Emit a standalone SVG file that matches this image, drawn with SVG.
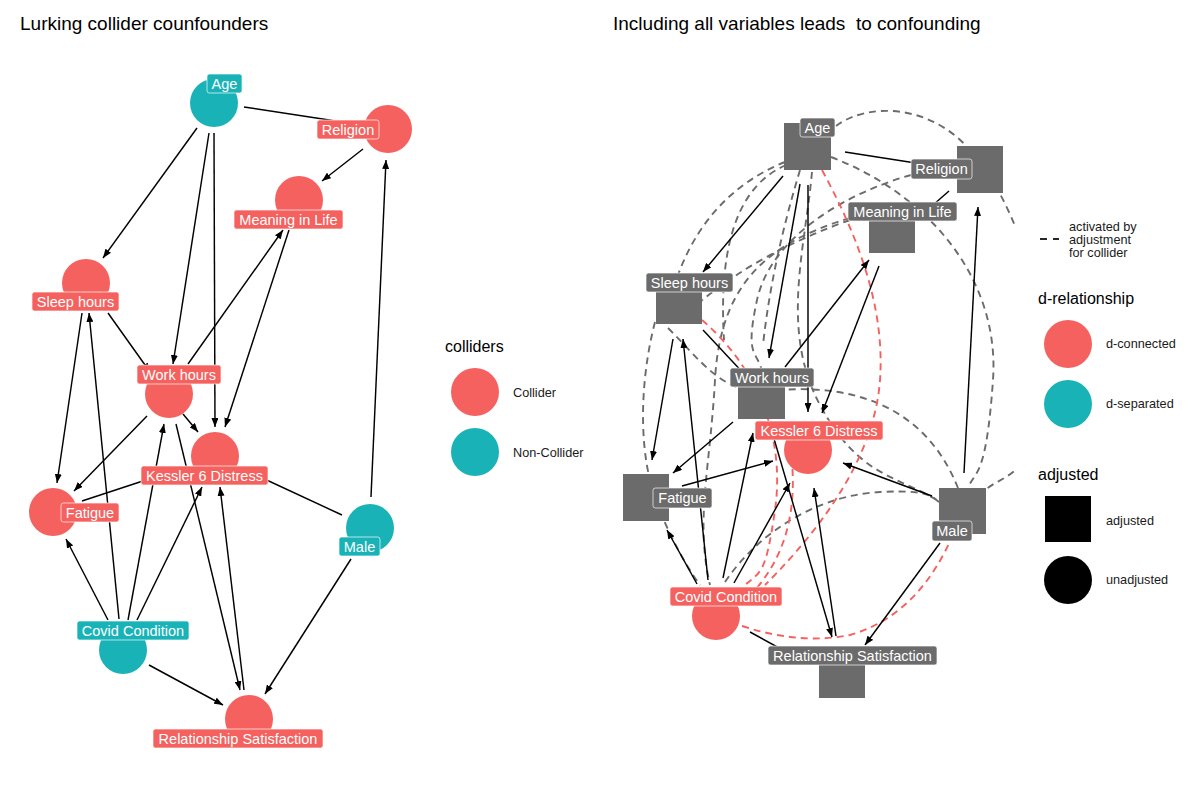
<svg xmlns="http://www.w3.org/2000/svg" width="1200" height="800" viewBox="0 0 1200 800">
  <style>
    text { font-family: "Liberation Sans", Arial, sans-serif; }
    .title { font-size: 19px; fill: #000; white-space: pre; }
    .lt { font-size: 16px; fill: #000; }
    .li { font-size: 12.7px; fill: #1a1a1a; }
    .lab { font-size: 14.5px; fill: #fff; text-anchor: middle; }
    .red { fill: #F4615E; }
    .teal { fill: #19B3B7; }
    .grey { fill: #6B6B6B; }
    .box { stroke: #ffffff; stroke-opacity: 0.75; stroke-width: 0.9; }
    .edge { stroke: #000; stroke-width: 1.45; fill: none; marker-end: url(#arr); }
    .dg { stroke: #6B6B6B; stroke-width: 1.9; fill: none; stroke-dasharray: 7 5; }
    .dr { stroke: #F4615E; stroke-width: 1.9; fill: none; stroke-dasharray: 7 5; }
  </style>
  <defs>
    <marker id="arr" viewBox="0 0 9 7" refX="9" refY="3.5" markerWidth="9" markerHeight="7" markerUnits="userSpaceOnUse" orient="auto">
      <path d="M0,0 L9,3.5 L0,7 z" fill="#000"/>
    </marker>
    <clipPath id="panel2">
      <rect x="600" y="40" width="415" height="760"/>
    </clipPath>
  </defs>
  <rect width="1200" height="800" fill="#fff"/>

  <text class="title" x="20" y="30">Lurking collider counfounders</text>
  <text class="title" x="613" y="30">Including all variables leads  to confounding</text>

  <!-- ===== Left panel: collider DAG ===== -->
  <g id="left-edges">
    <line class="edge" x1="197" y1="128" x2="103" y2="258"/>
    <line class="edge" x1="244" y1="107" x2="362" y2="125"/>
    <line class="edge" x1="363" y1="149" x2="322" y2="181"/>
    <line class="edge" x1="209" y1="133" x2="173" y2="364"/>
    <line class="edge" x1="214" y1="133" x2="215" y2="427"/>
    <line class="edge" x1="289" y1="230" x2="225" y2="427"/>
    <line class="edge" x1="188" y1="364" x2="283" y2="230"/>
    <line class="edge" x1="108" y1="313" x2="150" y2="372"/>
    <line class="edge" x1="82" y1="313" x2="57" y2="483"/>
    <line class="edge" x1="147" y1="416" x2="74" y2="491"/>
    <line class="edge" x1="183" y1="414" x2="198" y2="432"/>
    <line class="edge" x1="82" y1="501" x2="152" y2="478"/>
    <line class="edge" x1="342" y1="515" x2="258" y2="476"/>
    <line class="edge" x1="371" y1="497" x2="386" y2="160"/>
    <line class="edge" x1="176" y1="424" x2="240" y2="690"/>
    <line class="edge" x1="244" y1="690" x2="220" y2="487"/>
    <line class="edge" x1="108" y1="620" x2="66" y2="539"/>
    <line class="edge" x1="119" y1="619" x2="89" y2="313"/>
    <line class="edge" x1="128" y1="620" x2="164" y2="424"/>
    <line class="edge" x1="137" y1="620" x2="202" y2="487"/>
    <line class="edge" x1="149" y1="665" x2="223" y2="705"/>
    <line class="edge" x1="351" y1="559" x2="265" y2="694"/>
  </g>

  <g id="L-age"><circle class="teal" cx="214" cy="103" r="24"/><rect class="teal box" x="207" y="74" width="35" height="19" rx="2.5"/><text class="lab" x="224.5" y="88.5">Age</text></g>
  <g id="L-religion"><circle class="red" cx="388" cy="129" r="24"/><rect class="red box" x="317" y="120" width="62" height="19" rx="2.5"/><text class="lab" x="348" y="134.5">Religion</text></g>
  <g id="L-meaning"><circle class="red" cx="299" cy="200" r="24"/><rect class="red box" x="234" y="210" width="109" height="19" rx="2.5"/><text class="lab" x="288.5" y="224.5">Meaning in Life</text></g>
  <g id="L-sleep"><circle class="red" cx="86" cy="283" r="24"/><rect class="red box" x="32" y="292" width="87" height="19" rx="2.5"/><text class="lab" x="75.5" y="306.5">Sleep hours</text></g>
  <g id="L-work"><circle class="red" cx="169" cy="394" r="24"/><rect class="red box" x="137" y="365" width="84" height="19" rx="2.5"/><text class="lab" x="179" y="379.5">Work hours</text></g>
  <g id="L-kessler"><circle class="red" cx="215" cy="456" r="24"/><rect class="red box" x="141" y="466" width="127" height="19" rx="2.5"/><text class="lab" x="204.5" y="480.5">Kessler 6 Distress</text></g>
  <g id="L-fatigue"><circle class="red" cx="53" cy="512" r="24"/><rect class="red box" x="61" y="503" width="58" height="19" rx="2.5"/><text class="lab" x="90" y="517.5">Fatigue</text></g>
  <g id="L-male"><circle class="teal" cx="370" cy="528" r="24"/><rect class="teal box" x="339" y="537" width="41" height="19" rx="2.5"/><text class="lab" x="359.5" y="551.5">Male</text></g>
  <g id="L-covid"><circle class="teal" cx="123" cy="650" r="24"/><rect class="teal box" x="77" y="621" width="112" height="19" rx="2.5"/><text class="lab" x="133" y="635.5">Covid Condition</text></g>
  <g id="L-relsat"><circle class="red" cx="249" cy="719" r="24"/><rect class="red box" x="153" y="729" width="170" height="19" rx="2.5"/><text class="lab" x="238" y="743.5">Relationship Satisfaction</text></g>

  <!-- left legend -->
  <g id="legend-colliders">
    <text class="lt" x="445" y="352">colliders</text>
    <circle class="red" cx="475" cy="392" r="24"/>
    <text class="li" x="513" y="397">Collider</text>
    <circle class="teal" cx="475" cy="452" r="24"/>
    <text class="li" x="513" y="457">Non-Collider</text>
  </g>

  <!-- ===== Right panel: everything adjusted ===== -->
  <g id="right-connectors" clip-path="url(#panel2)">
    <!-- arcs opened by conditioning on colliders -->
    <path class="dg" d="M836 126 C868 102,930 104,970 150 S1045 280,1040 380 S1010 470,985 490"/>
    <path class="dg" d="M831 157 C930 195,1000 280,993 380 S975 470,968 488"/>
    <path class="dg" d="M911 175 C840 195,770 240,757 300 S758 350,762 372"/>
    <path class="dg" d="M850 220 Q760 252 700 302"/>
    <path class="dg" d="M850 218 C760 245,720 290,715 380 S695 520,710 585"/>
    <path class="dg" d="M785 162 C740 180,700 215,678 275"/>
    <path class="dg" d="M655 322 C640 380,640 440,650 480 S685 565,700 585"/>
    <path class="dg" d="M786 165 C740 185,718 240,724 340"/>
    <path class="dg" d="M668 328 C700 360,720 390,760 392 C850 380,925 405,958 488"/>
    <path class="dg" d="M725 582 C760 530,820 495,880 492 S930 500,945 505"/>
    <path class="dg" d="M812 172 C805 250,780 330,820 405 S900 475,945 505"/>
    <path class="dg" d="M800 170 C785 220,770 280,763 345"/>
    <path class="dr" d="M822 170 C860 240,885 310,880 380 C875 450,830 520,765 585"/>
    <path class="dr" d="M702 320 C760 370,785 440,775 510 S760 570,742 588"/>
    <path class="dr" d="M790 445 C798 500,790 550,755 590"/>
    <path class="dr" d="M742 626 Q800 645 850 635 Q920 615 955 530"/>
    <!-- directed edges -->
    <line class="edge" x1="783" y1="176" x2="703" y2="272"/>
    <line class="edge" x1="845" y1="152" x2="922" y2="164"/>
    <line class="edge" x1="949" y1="191" x2="925" y2="212"/>
    <line class="edge" x1="800" y1="184" x2="769" y2="358"/>
    <line class="edge" x1="808" y1="185" x2="808" y2="412"/>
    <line class="edge" x1="879" y1="266" x2="822" y2="413"/>
    <line class="edge" x1="785" y1="367" x2="869" y2="260"/>
    <line class="edge" x1="703" y1="330" x2="747" y2="377"/>
    <line class="edge" x1="673" y1="339" x2="652" y2="460"/>
    <line class="edge" x1="708" y1="580" x2="683" y2="339"/>
    <line class="edge" x1="733" y1="422" x2="673" y2="473"/>
    <line class="edge" x1="682" y1="486" x2="773" y2="461"/>
    <line class="edge" x1="723" y1="578" x2="753" y2="433"/>
    <line class="edge" x1="734" y1="583" x2="790" y2="483"/>
    <line class="edge" x1="697" y1="584" x2="667" y2="530"/>
    <line class="edge" x1="770" y1="425" x2="832" y2="637"/>
    <line class="edge" x1="836" y1="636" x2="814" y2="488"/>
    <line class="edge" x1="932" y1="496" x2="843" y2="463"/>
    <line class="edge" x1="964" y1="473" x2="978" y2="207"/>
    <line class="edge" x1="940" y1="543" x2="865" y2="645"/>
    <line class="edge" x1="750" y1="632" x2="792" y2="655"/>
  </g>

  <g id="R-age"><rect class="grey" x="784" y="123" width="47" height="47"/><rect class="grey box" x="800" y="118" width="35" height="19" rx="2.5"/><text class="lab" x="817.5" y="132.5">Age</text></g>
  <g id="R-religion"><rect class="grey" x="957" y="146" width="46" height="47"/><rect class="grey box" x="911" y="159" width="61" height="20" rx="2.5"/><text class="lab" x="941.5" y="174">Religion</text></g>
  <g id="R-meaning"><rect class="grey" x="869" y="206" width="46" height="47"/><rect class="grey box" x="848" y="202" width="109" height="19" rx="2.5"/><text class="lab" x="902.5" y="216.5">Meaning in Life</text></g>
  <g id="R-sleep"><rect class="grey" x="656" y="277" width="46" height="47"/><rect class="grey box" x="646" y="273" width="87" height="19" rx="2.5"/><text class="lab" x="689.5" y="287.5">Sleep hours</text></g>
  <g id="R-work"><rect class="grey" x="738" y="372" width="47" height="47"/><rect class="grey box" x="730" y="368" width="84" height="19" rx="2.5"/><text class="lab" x="772" y="382.5">Work hours</text></g>
  <g id="R-kessler"><circle class="red" cx="808" cy="450" r="24"/><rect class="red box" x="755" y="421" width="128" height="19" rx="2.5"/><text class="lab" x="819" y="435.5">Kessler 6 Distress</text></g>
  <g id="R-fatigue"><rect class="grey" x="623" y="474" width="46" height="47"/><rect class="grey box" x="653" y="488" width="59" height="20" rx="2.5"/><text class="lab" x="682.5" y="503">Fatigue</text></g>
  <g id="R-male"><rect class="grey" x="939" y="488" width="47" height="46"/><rect class="grey box" x="932" y="521" width="40" height="20" rx="2.5"/><text class="lab" x="952" y="536">Male</text></g>
  <g id="R-covid"><circle class="red" cx="716" cy="616" r="24"/><rect class="red box" x="670" y="587" width="112" height="19" rx="2.5"/><text class="lab" x="726" y="601.5">Covid Condition</text></g>
  <g id="R-relsat"><rect class="grey" x="819" y="651" width="46" height="47"/><rect class="grey box" x="768" y="646" width="169" height="19" rx="2.5"/><text class="lab" x="852.5" y="660.5">Relationship Satisfaction</text></g>

  <!-- right legends -->
  <g id="legend-right">
    <line x1="1040" y1="239" x2="1047" y2="239" stroke="#000" stroke-width="1.7"/>
    <line x1="1053" y1="239" x2="1059" y2="239" stroke="#000" stroke-width="1.7"/>
    <text class="li" x="1069" y="231">activated by</text>
    <text class="li" x="1069" y="244">adjustment</text>
    <text class="li" x="1069" y="257">for collider</text>

    <text class="lt" x="1038" y="304">d-relationship</text>
    <circle class="red" cx="1068" cy="344" r="24"/>
    <text class="li" x="1106" y="348">d-connected</text>
    <circle class="teal" cx="1068" cy="404" r="24"/>
    <text class="li" x="1106" y="408">d-separated</text>

    <text class="lt" x="1038" y="480">adjusted</text>
    <rect x="1045" y="496" width="46" height="46" fill="#000"/>
    <text class="li" x="1106" y="525">adjusted</text>
    <circle cx="1068" cy="580" r="24" fill="#000"/>
    <text class="li" x="1106" y="584">unadjusted</text>
  </g>
</svg>
